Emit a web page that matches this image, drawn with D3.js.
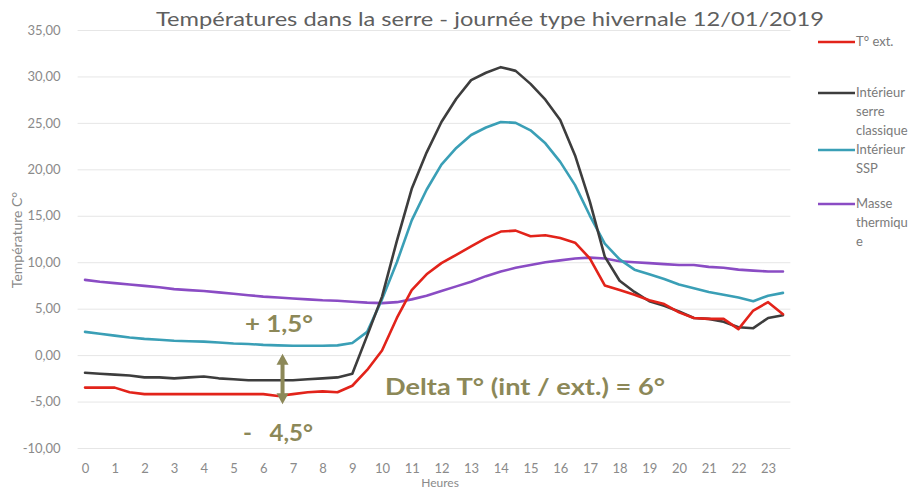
<!DOCTYPE html>
<html><head><meta charset="utf-8">
<script src="https://cdn.jsdelivr.net/npm/d3@7/dist/d3.min.js"></script>
<style>body{margin:0;background:#fff}svg{display:block}</style>
</head><body>
<svg id="c" width="922" height="490"></svg>
<script>
const hours = [0,0.5,1,1.5,2,2.5,3,3.5,4,4.5,5,5.5,6,6.5,7,7.5,8,8.5,9,9.5,10,10.5,11,11.5,12,12.5,13,13.5,14,14.5,15,15.5,16,16.5,17,17.5,18,18.5,19,19.5,20,20.5,21,21.5,22,22.5,23,23.5];
const tExt = [-3.5,-3.5,-3.5,-4.0,-4.2,-4.2,-4.2,-4.2,-4.2,-4.2,-4.2,-4.2,-4.2,-4.4,-4.2,-4.0,-3.9,-4.0,-3.3,-1.6,0.5,4.0,7.0,8.7,9.9,10.8,11.7,12.6,13.3,13.4,12.8,12.9,12.6,12.1,10.4,7.5,7.0,6.5,5.9,5.5,4.6,4.0,3.9,3.9,2.8,4.8,5.7,4.4];
const serreClassique = [-1.9,-2.0,-2.1,-2.2,-2.4,-2.4,-2.5,-2.4,-2.3,-2.5,-2.6,-2.7,-2.7,-2.7,-2.7,-2.6,-2.5,-2.4,-2.0,2.1,6.3,12.3,17.9,21.8,25.1,27.6,29.6,30.4,31.0,30.6,29.2,27.5,25.3,21.5,16.5,10.6,8.0,6.8,5.8,5.3,4.7,4.0,3.9,3.6,3.0,2.9,4.0,4.3];
const serreSSP = [2.5,2.3,2.1,1.9,1.75,1.65,1.55,1.5,1.45,1.35,1.25,1.2,1.1,1.05,1.0,1.0,1.0,1.05,1.3,2.5,6.0,10.0,14.5,17.8,20.5,22.3,23.7,24.5,25.1,25.0,24.2,22.8,20.8,18.3,15.0,12.0,10.3,9.2,8.7,8.2,7.6,7.2,6.8,6.5,6.2,5.8,6.4,6.7];
const masseThermique = [8.1,7.9,7.75,7.6,7.45,7.3,7.1,7.0,6.9,6.75,6.6,6.45,6.3,6.2,6.1,6.0,5.9,5.85,5.75,5.65,5.6,5.7,6.0,6.4,6.9,7.4,7.9,8.5,9.0,9.4,9.7,10.0,10.2,10.4,10.5,10.4,10.1,10.0,9.9,9.8,9.7,9.7,9.5,9.4,9.2,9.1,9.0,9.0];
const seriesNames = [["T° ext."],["Intérieur","serre","classique"],["Intérieur","SSP"],["Masse","thermiqu","e"]];
const seriesColors = ["#e2231a","#3d3d3d","#3a9fb6","#8a4cc4"];
const yTicks = [-10,-5,0,5,10,15,20,25,30,35];
const xTickLabels = [0,1,2,3,4,5,6,7,8,9,10,11,12,13,14,15,16,17,18,19,20,21,22,23];
const titleText = "Températures dans la serre - journée type hivernale 12/01/2019";
const yTitle = "Température C°";
const xTitle = "Heures";
const annUp = "+ 1,5°", annDown = "-   4,5°", annDelta = "Delta T° (int / ext.) = 6°";

const allSeries = [tExt, serreClassique, serreSSP, masseThermique];
const svg = d3.select("#c");
const font = "Lato, 'Open Sans', sans-serif";
const L = 77.6, R = 790.4, T = 30, B = 448;
const x = d3.scaleLinear().domain([-0.25, 23.75]).range([L, R]);
const y = d3.scaleLinear().domain([-10, 35]).range([B, T]);
const fmt = v => d3.format(".2f")(v).replace(".", ",").replace("−", "-");

// gridlines
const grid = svg.append("g").attr("transform", `translate(${L},0)`)
  .call(d3.axisLeft(y).tickValues(yTicks).tickSize(-(R - L)).tickFormat(""));
grid.select(".domain").remove();
grid.selectAll("line").attr("stroke", "#e6e6e6").attr("stroke-width", 1);

// y axis labels
const ya = svg.append("g").attr("transform", `translate(${L},0)`)
  .call(d3.axisLeft(y).tickValues(yTicks).tickSize(0).tickPadding(17).tickFormat(fmt));
ya.select(".domain").remove();
ya.selectAll("text").attr("font-family", font).attr("font-size", 13).attr("fill", "#8a8a8a");

// x axis labels
const xa = svg.append("g").attr("transform", `translate(0,${B})`)
  .call(d3.axisBottom(x).tickValues(xTickLabels).tickSize(0).tickPadding(16).tickFormat(d => d));
xa.select(".domain").remove();
xa.selectAll("text").attr("font-family", font).attr("font-size", 13).attr("fill", "#8a8a8a");

// title
svg.append("text").attr("x", 490).attr("y", 26).attr("text-anchor", "middle")
  .attr("font-family", font).attr("font-size", 19).attr("fill", "#5f5f5f")
  .attr("textLength", 668).attr("lengthAdjust", "spacingAndGlyphs").text(titleText);

// axis titles
svg.append("text").attr("transform", "translate(22,240) rotate(-90)").attr("text-anchor", "middle")
  .attr("font-family", font).attr("font-size", 14).attr("fill", "#8a8a8a").text(yTitle);
svg.append("text").attr("x", 440).attr("y", 487).attr("text-anchor", "middle")
  .attr("font-family", font).attr("font-size", 12).attr("fill", "#8a8a8a").text(xTitle);

// lines
const line = d3.line().x((d, i) => x(hours[i])).y(d => y(d));
[masseThermique, serreSSP, serreClassique, tExt].forEach(s => {
  const idx = allSeries.indexOf(s);
  svg.append("path").datum(s).attr("d", line).attr("fill", "none")
    .attr("stroke", seriesColors[idx]).attr("stroke-width", 2.6)
    .attr("stroke-linejoin", "round").attr("stroke-linecap", "round");
});

// legend
const legY = [42, 93, 150, 204];
seriesNames.forEach((lines, i) => {
  svg.append("line").attr("x1", 818).attr("x2", 855).attr("y1", legY[i]).attr("y2", legY[i])
    .attr("stroke", seriesColors[i]).attr("stroke-width", 2.6);
  const t = svg.append("text").attr("x", 856).attr("y", legY[i] + 4)
    .attr("font-family", font).attr("font-size", 13).attr("fill", "#7a7a7a");
  lines.forEach((s, j) => t.append("tspan").attr("x", 856).attr("dy", j === 0 ? 0 : 19).text(s));
});

// annotations
const olive = "#8c8858";
const ax = x(6.65);
const aTop = y(1.0) + 8, aBot = y(-5.3);
svg.append("line").attr("x1", ax).attr("x2", ax).attr("y1", aTop + 8).attr("y2", aBot - 8)
  .attr("stroke", olive).attr("stroke-width", 4);
svg.append("path").attr("d", `M${ax},${aTop} L${ax-6},${aTop+11} L${ax+6},${aTop+11} Z`).attr("fill", olive);
svg.append("path").attr("d", `M${ax},${aBot} L${ax-6},${aBot-11} L${ax+6},${aBot-11} Z`).attr("fill", olive);
const ann = (txt, xx, yy, w) => svg.append("text").attr("x", xx).attr("y", yy)
  .attr("font-family", font).attr("font-size", 23).attr("font-weight", "bold").attr("fill", olive)
  .style("white-space", "pre")
  .attr("textLength", w).attr("lengthAdjust", "spacingAndGlyphs").text(txt);
ann(annUp, 245, 332, 68);
ann(annDown, 243, 441, 70);
ann(annDelta, 385, 395, 280);
</script>
</body></html>
